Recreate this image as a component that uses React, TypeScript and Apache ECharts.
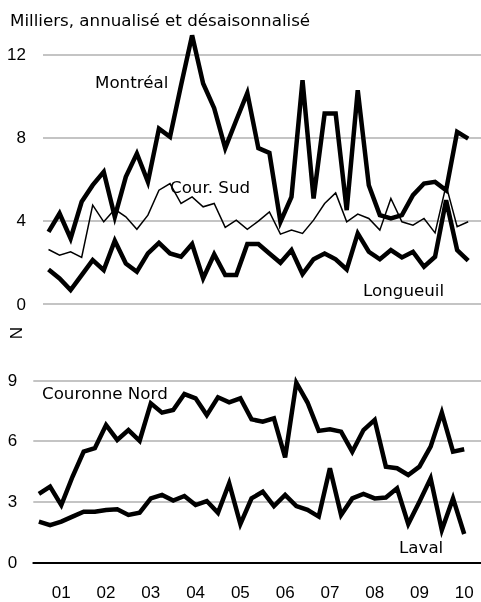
import React, { useEffect, useRef } from "react";
import * as echarts from "echarts";

const FONT = '"Liberation Sans", Arial, sans-serif';
const LABEL_FONT = '"DejaVu Sans", "Liberation Sans", sans-serif';
const FS = 17;
const LFS = 16.7;

// Quarterly categories 2001-T1 .. 2010-T4 (last one empty)
const YEARS = ["2001", "2002", "2003", "2004", "2005", "2006", "2007", "2008", "2009", "2010"];
const QUARTERS: string[] = [];
YEARS.forEach((y) => ["T1", "T2", "T3", "T4"].forEach((q) => QUARTERS.push(y + "-" + q)));

// Top panel (thousands, annualised, seasonally adjusted)
const MONTREAL = [3.47, 4.35, 3.15, 4.91, 5.71, 6.35, 4.19, 6.11, 7.23, 5.87, 8.43, 8.03, 10.51, 12.91, 10.6, 9.41, 7.49, 8.83, 10.14, 7.49, 7.26, 3.95, 5.15, 10.75, 5.07, 9.15, 9.15, 4.51, 10.27, 5.71, 4.27, 4.11, 4.27, 5.23, 5.79, 5.87, 5.47, 8.27, 7.95];
const COUR_SUD = [2.62, 2.35, 2.51, 2.24, 4.75, 3.95, 4.55, 4.19, 3.59, 4.27, 5.47, 5.79, 4.83, 5.15, 4.67, 4.83, 3.68, 4.03, 3.59, 3.98, 4.43, 3.36, 3.55, 3.39, 4.03, 4.83, 5.34, 3.95, 4.32, 4.11, 3.55, 5.07, 3.95, 3.79, 4.11, 3.42, 5.7, 3.71, 3.95];
const LONGUEUIL = [1.66, 1.23, 0.67, 1.39, 2.11, 1.63, 3.04, 1.95, 1.55, 2.43, 2.94, 2.43, 2.27, 2.88, 1.23, 2.39, 1.39, 1.39, 2.88, 2.88, 2.43, 1.98, 2.59, 1.44, 2.15, 2.43, 2.15, 1.66, 3.39, 2.51, 2.15, 2.59, 2.24, 2.51, 1.79, 2.27, 4.99, 2.59, 2.08];

// Bottom panel
const COURONNE_NORD = [3.38, 3.74, 2.83, 4.23, 5.47, 5.64, 6.79, 6.05, 6.54, 6.01, 7.86, 7.4, 7.53, 8.32, 8.11, 7.28, 8.16, 7.91, 8.11, 7.07, 6.95, 7.12, 5.19, 8.88, 7.9, 6.5, 6.58, 6.46, 5.47, 6.54, 7.04, 4.73, 4.65, 4.32, 4.73, 5.72, 7.4, 5.47, 5.59];
const LAVAL = [2.01, 1.84, 2.01, 2.26, 2.5, 2.5, 2.59, 2.62, 2.34, 2.45, 3.16, 3.33, 3.05, 3.28, 2.83, 3.03, 2.45, 3.91, 1.89, 3.16, 3.49, 2.78, 3.33, 2.78, 2.59, 2.26, 4.65, 2.34, 3.16, 3.38, 3.16, 3.2, 3.66, 1.89, 3.0, 4.15, 1.6, 3.16, 1.4];

const TOP_TICKS = [0, 4, 8, 12];
const BOTTOM_TICKS = [0, 3, 6, 9];

const TITLE = "Milliers, annualisé et désaisonnalisé";

const GRID_COLOR = "#c4c4c4";

export default function App() {
  const ref = useRef<HTMLDivElement>(null);
  useEffect(() => {
    if (!ref.current) return;
    const chart = echarts.init(ref.current, null, { renderer: "svg" });
    const thick = (data: any, xi: number, yi: number, name: string, w = 4.5) => ({
      type: "line",
      name,
      xAxisIndex: xi,
      yAxisIndex: yi,
      data,
      symbol: "none",
      clip: false,
      lineStyle: { color: "#000", width: w, join: "miter" },
      silent: true,
    });
    const txt = (text: string, x: number, y: number, extra: any = {}) => ({
      type: "text",
      x,
      y,
      z: 10,
      ...extra,
      style: { text, fill: "#000", fontSize: LFS, fontFamily: LABEL_FONT, verticalAlign: "middle", ...(extra.style || {}) },
    });
    const option: any = {
      animation: false,
      textStyle: { fontFamily: FONT },
      grid: [
        { left: 43, right: 0, top: 54.3, height: 249.7 },
        { left: 33.3, width: 451.2, top: 380.3, height: 182 },
      ],
      xAxis: [
        { gridIndex: 0, type: "value", min: -0.5, max: 39.16, show: false },
        {
          gridIndex: 1,
          type: "category",
          data: QUARTERS,
          boundaryGap: true,
          z: 5,
          axisLine: { lineStyle: { color: "#000", width: 2 } },
          axisTick: { inside: true, length: 7, interval: (i: number) => i % 4 === 0, lineStyle: { color: "#000", width: 2 } },
          axisLabel: {
            interval: (i: number) => i % 4 === 2,
            formatter: (v: string) => v.slice(2, 4),
            margin: 22,
            fontSize: FS,
            color: "#000",
            fontFamily: FONT,
          },
          splitLine: { show: false },
        },
      ],
      yAxis: [
        {
          gridIndex: 0,
          type: "value",
          min: TOP_TICKS[0],
          max: TOP_TICKS[TOP_TICKS.length - 1],
          interval: TOP_TICKS[1] - TOP_TICKS[0],
          axisLine: { show: false },
          axisTick: { show: false },
          axisLabel: { margin: 17, fontSize: FS, color: "#000", fontFamily: FONT },
          splitLine: { lineStyle: { color: GRID_COLOR, width: 2 } },
        },
        {
          gridIndex: 1,
          type: "value",
          min: BOTTOM_TICKS[0],
          max: BOTTOM_TICKS[BOTTOM_TICKS.length - 1],
          interval: BOTTOM_TICKS[1] - BOTTOM_TICKS[0],
          axisLine: { show: false },
          axisTick: { show: false },
          axisLabel: { margin: 16, fontSize: FS, color: "#000", fontFamily: FONT },
          splitLine: { lineStyle: { color: GRID_COLOR, width: 2 } },
        },
      ],
      series: [
        thick(MONTREAL.map((v, i) => [i, v]), 0, 0, "Montréal"),
        thick(COUR_SUD.map((v, i) => [i, v]), 0, 0, "Cour. Sud", 1.5),
        thick(LONGUEUIL.map((v, i) => [i, v]), 0, 0, "Longueuil"),
        thick(COURONNE_NORD, 1, 1, "Couronne Nord"),
        thick(LAVAL, 1, 1, "Laval"),
      ],
      graphic: [
        txt(TITLE, 10, 20),
        txt("Montréal", 95, 82),
        txt("Cour. Sud", 170, 187),
        txt("Longueuil", 363, 290),
        txt("Couronne Nord", 42, 393),
        txt("Laval", 399, 547),
        txt("N", 16, 333, { rotation: Math.PI / 2, style: { align: "center", fontFamily: FONT, fontSize: FS } }),
      ],
    };
    chart.setOption(option);
    return () => chart.dispose();
  }, []);
  return <div ref={ref} style={{ position: "fixed", left: 0, top: 0, width: 481, height: 602 }} />;
}
